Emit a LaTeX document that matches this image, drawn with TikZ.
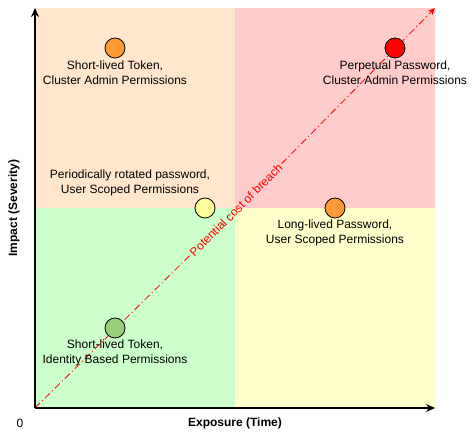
\documentclass[tikz,border=0pt]{standalone}
\usepackage{fontspec}
\setmainfont{Liberation Sans}
\usetikzlibrary{arrows.meta}
\definecolor{qTL}{HTML}{FFE6CC}
\definecolor{qTR}{HTML}{FFCCCC}
\definecolor{qBL}{HTML}{CCFFCC}
\definecolor{qBR}{HTML}{FFFFCC}
\definecolor{cOrange}{HTML}{FF9933}
\definecolor{cRed}{HTML}{FF0000}
\definecolor{cYellow}{HTML}{FFFF99}
\definecolor{cGreen}{HTML}{97D077}
\tikzset{
  axisline/.style={line width=2pt,-{Stealth[length=9pt,width=8pt,inset=3pt]}},
  costline/.style={draw=red,line width=0.8pt,dash pattern=on 7pt off 3pt on 1pt off 3pt},
  costtip/.style={-{Stealth[length=7pt,width=6pt,inset=2pt]}},
  dot/.style={circle,draw=black,line width=0.8pt,minimum size=20pt,inner sep=0pt},
  lbl/.style={align=center,inner sep=0pt,font=\fontsize{12}{14.6}\selectfont},
  costlbl/.style={inner sep=2pt,text=red,rotate=45,font=\fontsize{12}{14}\selectfont},
  axlbl/.style={inner sep=0pt,font=\fontsize{12}{14}\selectfont\bfseries},
}
\begin{document}
\begin{tikzpicture}[x=1pt,y=-1pt]
\useasboundingbox (0,0) rectangle (475,438);
% quadrants
\fill[qTL] (35,8) rectangle (235,208);
\fill[qTR] (235,8) rectangle (435,208);
\fill[qBL] (35,208) rectangle (235,408);
\fill[qBR] (235,208) rectangle (435,408);
% coordinates
\coordinate (O) at (35,408);
\coordinate (ytop) at (35,8);
\coordinate (xend) at (435,408);
\coordinate (tr) at (435,8);
% cost line, interrupted by its label
\node[costlbl] (cost) at (236,210) {Potential cost of breach};
\draw[costline] (O) -- (cost);
\draw[costline,costtip] (cost) -- (tr);
% axes
\draw[axisline] (O) -- (ytop);
\draw[axisline] (O) -- (xend);
\node[axlbl,rotate=90] (ylab) at (14,208) {Impact (Severity)};
\node[axlbl] (xlab) at (235,423) {Exposure (Time)};
\node[lbl] (zero) at (20,423) {0};
% points
\node[dot,fill=cOrange] (p1) at (115,48) {};
\node[lbl] (l1) at (115,73) {Short-lived Token,\\Cluster Admin Permissions};
\node[dot,fill=cRed] (p2) at (395,48) {};
\node[lbl] (l2) at (395,73) {Perpetual Password,\\Cluster Admin Permissions};
\node[dot,fill=cYellow] (p3) at (205,208) {};
\node[lbl] (l3) at (130,183) {Periodically rotated password,\\User Scoped Permissions};
\node[dot,fill=cOrange] (p4) at (335,208) {};
\node[lbl] (l4) at (335,233) {Long-lived Password,\\User Scoped Permissions};
\node[dot,fill=cGreen] (p5) at (115,328) {};
\node[lbl] (l5) at (115,353) {Short-lived Token,\\Identity Based Permissions};
\end{tikzpicture}
\end{document}
